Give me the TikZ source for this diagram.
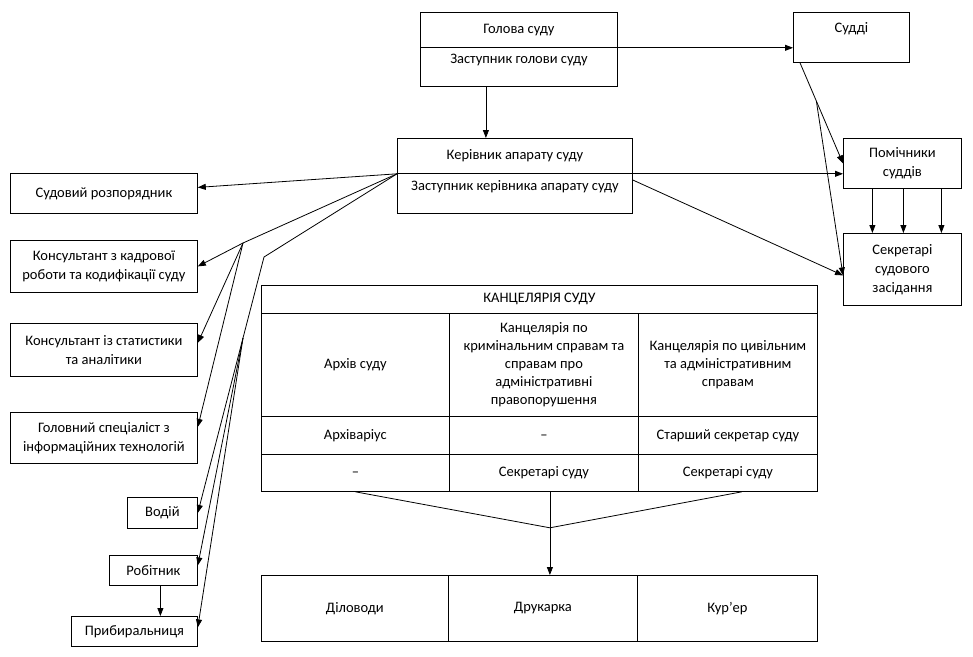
\documentclass[tikz,border=0pt]{standalone}
\usepackage{fontspec}
\setmainfont{Carlito}
\usetikzlibrary{positioning,arrows.meta,calc}
\tikzset{
  box/.style={draw,align=center,anchor=north west,inner sep=2pt,font=\fontsize{14.5}{19}\selectfont},
  txt/.style={anchor=north,inner sep=0pt,font=\fontsize{14.5}{19}\selectfont},
  arr/.style={-{Triangle[length=8pt,width=6pt]}}
}

\begin{document}
\begin{tikzpicture}[x=1pt,y=-1pt,line width=0.8pt]
\path[use as bounding box,fill=white] (0,0) rectangle (973,656);

% head of the court and judges
\node[box, minimum width=197, minimum height=35] (head) at (420,12) {Голова суду};
\node[box, minimum width=197, minimum height=39] (headdep) at (420,47) {};
\node[txt] (headdeptxt) at ([yshift=-7]headdep.north) {Заступник голови суду};
\node[box, minimum width=116, minimum height=50] (sud) at (793,12) {};
\node[txt] (sudtxt) at ([yshift=-10]sud.north) {Судді};

\node[box, minimum width=235, minimum height=35] (ker) at (397,138) {Керівник апарату суду};
\node[box, minimum width=235, minimum height=40] (kerdep) at (397,173) {};
\node[txt] (kerdeptxt) at ([yshift=-7]kerdep.north) {Заступник керівника апарату суду};

\node[box, minimum width=118, minimum height=50] (pom) at (843,138) {Помічники\\суддів};
\node[box, minimum width=118, minimum height=72] (sekr) at (843,233) {Секретарі\\судового\\засідання};

% left column
\node[box, minimum width=187, minimum height=40] (rozp) at (10,173) {Судовий розпорядник};
\node[box, minimum width=187, minimum height=52] (kadr) at (10,240) {Консультант з кадрової\\роботи та кодифікації суду};
\node[box, minimum width=187, minimum height=53] (stat) at (10,323) {Консультант із статистики\\та аналітики};
\node[box, minimum width=187, minimum height=51] (golov) at (10,412) {Головний спеціаліст з\\інформаційних технологій};
\node[box, minimum width=70, minimum height=31] (vodii) at (127,497) {Водій};
\node[box, minimum width=88, minimum height=30] (robit) at (109,555) {Робітник};
\node[box, minimum width=126, minimum height=30] (prybyr) at (71,616) {Прибиральниця};

% chancellery table
\node[box, minimum width=556, minimum height=28] (kanc) at (261,285) {КАНЦЕЛЯРІЯ СУДУ};
\node[box, minimum width=188, minimum height=103] (arch) at (261,313) {Архів суду};
\node[box, minimum width=189, minimum height=103, font=\fontsize{14.5}{18}\selectfont] (crim) at (449,313) {Канцелярія по\\кримінальним справам та\\справам про\\адміністративні\\правопорушення};
\node[box, minimum width=179, minimum height=103, font=\fontsize{14.5}{18}\selectfont] (civ) at (638,313) {Канцелярія по цивільним\\та адміністративним\\справам};
\node[box, minimum width=188, minimum height=38] (archv) at (261,416) {Архіваріус};
\node[box, minimum width=189, minimum height=38] (crimd) at (449,416) {\vphantom{Архіваріус}–};
\node[box, minimum width=179, minimum height=38] (senior) at (638,416) {Старший секретар суду};
\node[box, minimum width=188, minimum height=37] (dash2) at (261,454) {\vphantom{Секретарі суду}–};
\node[box, minimum width=189, minimum height=37] (secr1) at (449,454) {Секретарі суду};
\node[box, minimum width=179, minimum height=37] (secr2) at (638,454) {Секретарі суду};

\node[box, minimum width=187, minimum height=66] (dil) at (261,575) {Діловоди};
\node[box, minimum width=189, minimum height=66] (druk) at (448,575) {Друкарка};
\node[box, minimum width=180, minimum height=66] (kur) at (637,575) {Кур’ер};

% bend points
\coordinate (fanA) at (243,243);
\coordinate (fanB) at (264,257);
\coordinate (fanC) at (243,338);
\coordinate (sudD) at ($([xshift=7]sud.south west)!0.38!(pom.west)$);
\coordinate (join) at ([xshift=6,yshift=-36]secr1.south);

% connectors
\draw[arr] ([xshift=-33]headdep.south) -- ([xshift=-33]headdep.south |- ker.north);
\draw[arr] (head.south east) -- (head.south east -| sud.west);
\draw[arr] (ker.south east) -- (ker.south east -| pom.west);
\draw[arr] ([yshift=-7]kerdep.north east) -- ([yshift=-6]sekr.west);
\draw[arr] ([xshift=7]sud.south west) -- (pom.west);
\draw[arr] (sudD) -- ([yshift=-6]sekr.west);
\foreach \dx in {-30,1,39}
  \draw[arr] ([xshift=\dx]pom.south) -- ([xshift=\dx]sekr.north);

\draw[arr] (ker.south west) -- ([yshift=6]rozp.east);
\draw[arr] (ker.south west) -- (fanA) -- (kadr.east);
\draw[arr] (fanA) -- ([yshift=7]stat.east);
\draw[arr] (fanA) -- ([yshift=11]golov.east);
\draw[arr] (ker.south west) -- (fanB) -- (fanC) -- (vodii.east);
\draw[arr] (fanC) -- ([yshift=5]robit.east);
\draw[arr] (fanC) -- ([yshift=4]prybyr.east);
\draw[arr] ([xshift=7]robit.south) -- ([xshift=7]robit.south |- prybyr.north);

\draw (dash2.south) -- (join);
\draw ([xshift=14]secr2.south) -- (join);
\draw[arr] ([xshift=6]secr1.south) -- (join) -- (join |- druk.north);
\end{tikzpicture}
\end{document}
